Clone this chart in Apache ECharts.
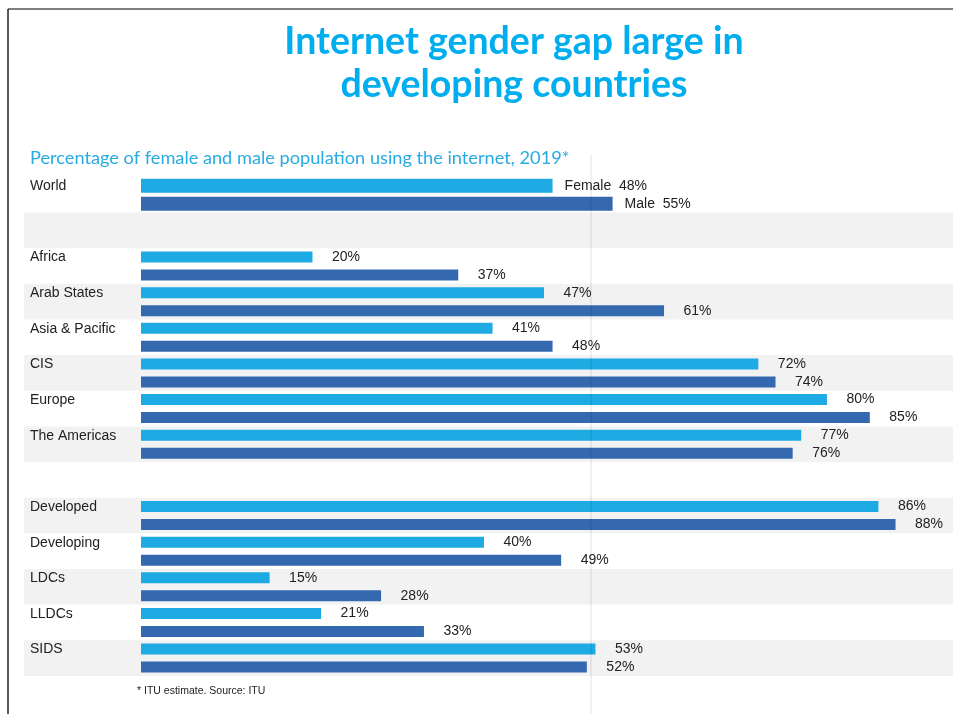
<!DOCTYPE html>
<html>
<head>
<meta charset="utf-8">
<script src="https://cdn.jsdelivr.net/npm/echarts@6/dist/echarts.min.js"></script>
<style>html,body{margin:0;padding:0;background:#fff;}#c{width:953px;height:714px;}</style>
</head>
<body>
<div id="c"></div>
<script>
// Data
const categories = ['World', '', 'Africa', 'Arab States', 'Asia & Pacific', 'CIS', 'Europe', 'The Americas', '', 'Developed', 'Developing', 'LDCs', 'LLDCs', 'SIDS'];
const femaleValues = [48, null, 20, 47, 41, 72, 80, 77, null, 86, 40, 15, 21, 53];
const maleValues   = [55, null, 37, 61, 48, 74, 85, 76, null, 88, 49, 28, 33, 52];

const FEMALE = '#1eaae2', MALE = '#3469b0';
const gridTop = 176.9, gridH = 499;
const labelFont = { fontFamily: 'Liberation Sans, Arial, sans-serif', fontSize: 14, color: '#222' };

// World row drawn on its own axis (thicker bars), other rows on the main axis
const worldFemale = femaleValues.map((v, i) => i === 0 ? v : null);
const worldMale = maleValues.map((v, i) => i === 0 ? v : null);
const restFemale = femaleValues.map((v, i) => i === 0 ? null : v);
const restMale = maleValues.map((v, i) => i === 0 ? null : v);

const chart = echarts.init(document.getElementById('c'), null, { renderer: 'canvas' });
chart.setOption({
  animation: false,
  backgroundColor: '#fff',
  grid: [
    { left: 24, right: 0, top: gridTop, height: gridH },
    { left: 141, right: 0, top: gridTop, height: gridH }
  ],
  xAxis: [
    { gridIndex: 0, type: 'value', show: false, min: 0, max: 100 },
    { gridIndex: 1, type: 'value', show: false, min: 0, max: 94.7 }
  ],
  yAxis: [
    { gridIndex: 0, type: 'category', data: categories, inverse: true,
      axisLine: { show: false }, axisTick: { show: false }, axisLabel: { show: false },
      splitLine: { show: false },
      splitArea: { show: true, areaStyle: { color: ['rgba(255,255,255,0)', '#f2f2f2'] } } },
    { gridIndex: 1, type: 'category', data: categories, inverse: true,
      axisLine: { show: false }, axisTick: { show: false }, splitLine: { show: false },
      axisLabel: Object.assign({ align: 'left', margin: 111, verticalAlign: 'bottom', lineHeight: 17 }, labelFont) },
    { gridIndex: 1, type: 'category', data: categories, inverse: true, show: false }
  ],
  series: [
    { type: 'bar', name: 'Female', xAxisIndex: 1, yAxisIndex: 1, data: restFemale,
      barWidth: 11, barGap: '63.6%', itemStyle: { color: FEMALE },
      label: Object.assign({ show: true, position: 'right', distance: 19.5, formatter: '{c}%' }, labelFont) },
    { type: 'bar', name: 'Male', xAxisIndex: 1, yAxisIndex: 1, data: restMale,
      barWidth: 11, barGap: '63.6%', itemStyle: { color: MALE },
      label: Object.assign({ show: true, position: 'right', distance: 19.5, formatter: '{c}%' }, labelFont) },
    { type: 'bar', name: 'Female', xAxisIndex: 1, yAxisIndex: 2, data: worldFemale,
      barWidth: 14, barGap: '28.6%', itemStyle: { color: FEMALE },
      label: Object.assign({ show: true, position: 'right', distance: 12, formatter: 'Female  {c}%' }, labelFont) },
    { type: 'bar', name: 'Male', xAxisIndex: 1, yAxisIndex: 2, data: worldMale,
      barWidth: 14, barGap: '28.6%', itemStyle: { color: MALE },
      label: Object.assign({ show: true, position: 'right', distance: 12, formatter: 'Male  {c}%' }, labelFont) }
  ],
  graphic: [
    { type: 'line', shape: { x1: 8, y1: 9, x2: 953, y2: 9 }, style: { stroke: '#555', lineWidth: 1.5 }, z: 10 },
    { type: 'line', shape: { x1: 8, y1: 9, x2: 8, y2: 714 }, style: { stroke: '#222', lineWidth: 1.5 }, z: 10 },
    { type: 'line', shape: { x1: 591, y1: 155, x2: 591, y2: 714 }, style: { stroke: 'rgba(0,0,0,0.12)', lineWidth: 1 }, z: 5 },
    { type: 'text', x: 514, y: 42, style: { text: 'Internet gender gap large in', fill: '#00aeef',
      font: 'bold 37.5px Lato, sans-serif', textAlign: 'center', textVerticalAlign: 'middle' } },
    { type: 'text', x: 514, y: 85, style: { text: 'developing countries', fill: '#00aeef',
      font: 'bold 37.5px Lato, sans-serif', textAlign: 'center', textVerticalAlign: 'middle' } },
    { type: 'text', x: 30, y: 158, style: { text: 'Percentage of female and male population using the internet, 2019*', fill: '#29abe2',
      font: '18.2px Lato, sans-serif', textAlign: 'left', textVerticalAlign: 'middle' } },
    { type: 'text', x: 137, y: 691, style: { text: '* ITU estimate. Source: ITU', fill: '#222',
      font: '10.5px "Liberation Sans", Arial, sans-serif', textAlign: 'left', textVerticalAlign: 'middle' } }
  ]
});
</script>
</body>
</html>
